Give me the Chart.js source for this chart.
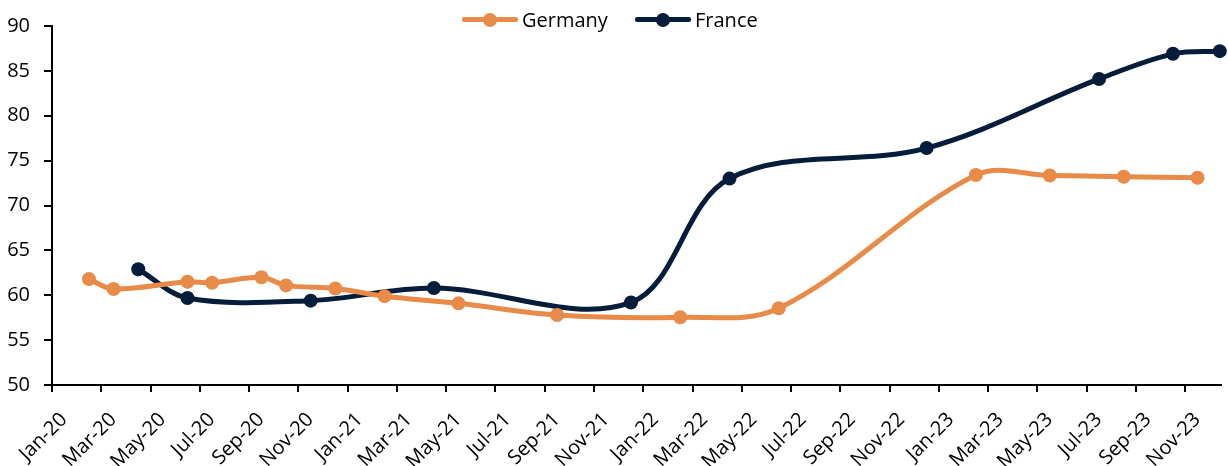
<!DOCTYPE html>
<html>
<head>
<meta charset="utf-8">
<script src="https://cdn.jsdelivr.net/npm/chart.js@4"></script>
<style>
  body { margin: 0; background: #fff; }
  #wrap { position: relative; width: 1228px; height: 466px; }
  .legend { position: absolute; top: 6px; left: 0; width: 100%; font: 20px "Open Sans", sans-serif; color: #000; }
  .item { position: absolute; top: 0; height: 28px; display: flex; align-items: center; }
  .swatch { position: relative; width: 56px; height: 28px; }
  .swatch .ln { position: absolute; left: 0; top: 11px; width: 56px; height: 5px; border-radius: 2px; }
  .swatch .dot { position: absolute; left: 21px; top: 7px; width: 14px; height: 14px; border-radius: 50%; }
  .item span { margin-left: 4px; line-height: 28px; }
</style>
</head>
<body>
<div id="wrap">
  <canvas id="myChart"></canvas>
  <div class="legend">
    <div class="item" style="left:462px">
      <div class="swatch"><div class="ln" style="background:#E88A48"></div><div class="dot" style="background:#E88A48"></div></div>
      <span>Germany</span>
    </div>
    <div class="item" style="left:635px">
      <div class="swatch"><div class="ln" style="background:#061C3B"></div><div class="dot" style="background:#061C3B"></div></div>
      <span>France</span>
    </div>
  </div>
</div>
<script>
// x = months since Jan-20 (0 = Jan-20)
const tickLabels = ['Jan-20','Mar-20','May-20','Jul-20','Sep-20','Nov-20',
  'Jan-21','Mar-21','May-21','Jul-21','Sep-21','Nov-21',
  'Jan-22','Mar-22','May-22','Jul-22','Sep-22','Nov-22',
  'Jan-23','Mar-23','May-23','Jul-23','Sep-23','Nov-23'];

const germanyX = [1.5, 2.5, 5.5, 6.5, 8.5, 9.5, 11.5, 13.5, 16.5, 20.5, 25.5, 29.5, 37.5, 40.5, 43.5, 46.5];
const germanyY = [61.8, 60.7, 61.5, 61.4, 62.0, 61.1, 60.75, 59.9, 59.1, 57.8, 57.55, 58.55, 73.4, 73.35, 73.2, 73.1];

const franceX = [3.5, 5.5, 10.5, 15.5, 23.5, 27.5, 35.5, 42.5, 45.5, 47.4];
const franceY = [62.9, 59.7, 59.4, 60.8, 59.2, 73.0, 76.4, 84.1, 86.9, 87.2];

const orange = '#E88A48';
const navy = '#061C3B';

function toPoints(xs, ys) {
  return xs.map((x, i) => ({ x: x, y: ys[i] }));
}

function makeSet(label, xs, ys, color) {
  return {
    label: label,
    data: toPoints(xs, ys),
    borderColor: color,
    backgroundColor: color,
    borderWidth: 5,
    pointRadius: 7,
    pointHoverRadius: 7,
    pointBorderWidth: 0,
    tension: 0.35,
    clip: 8
  };
}

const ctx = document.getElementById('myChart');
const tickFont = { family: '"Open Sans", sans-serif', size: 20 };

new Chart(ctx, {
  type: 'line',
  data: {
    datasets: [
      makeSet('Germany', germanyX, germanyY, orange),
      makeSet('France', franceX, franceY, navy)
    ]
  },
  options: {
    responsive: true,
    maintainAspectRatio: false,
    animation: false,
    layout: { padding: { top: 23, right: 0, left: 0, bottom: 0 } },
    plugins: { legend: { display: false }, tooltip: { enabled: false } },
    scales: {
      x: {
        type: 'linear',
        min: 0,
        max: 47.45,
        grid: { drawOnChartArea: false, drawTicks: true, tickLength: 7, color: '#000', lineWidth: 2 },
        border: { color: '#000', width: 2 },
        ticks: {
          stepSize: 2,
          includeBounds: false,
          autoSkip: false,
          maxRotation: 45,
          minRotation: 45,
          color: '#000',
          font: tickFont,
          padding: 16,
          labelOffset: 12,
          callback: (v) => tickLabels[v / 2] || ''
        },
        afterFit: (scale) => {
          scale.height = 81;
          scale.paddingLeft = 0;
          scale.paddingRight = 0;
        }
      },
      y: {
        min: 50,
        max: 90,
        grid: { drawOnChartArea: false, drawTicks: true, tickLength: 8, color: '#000', lineWidth: 2 },
        border: { color: '#000', width: 2 },
        ticks: { stepSize: 5, color: '#000', font: tickFont, padding: 14 },
        afterFit: (scale) => { scale.width = 52; }
      }
    }
  }
});
</script>
</body>
</html>
